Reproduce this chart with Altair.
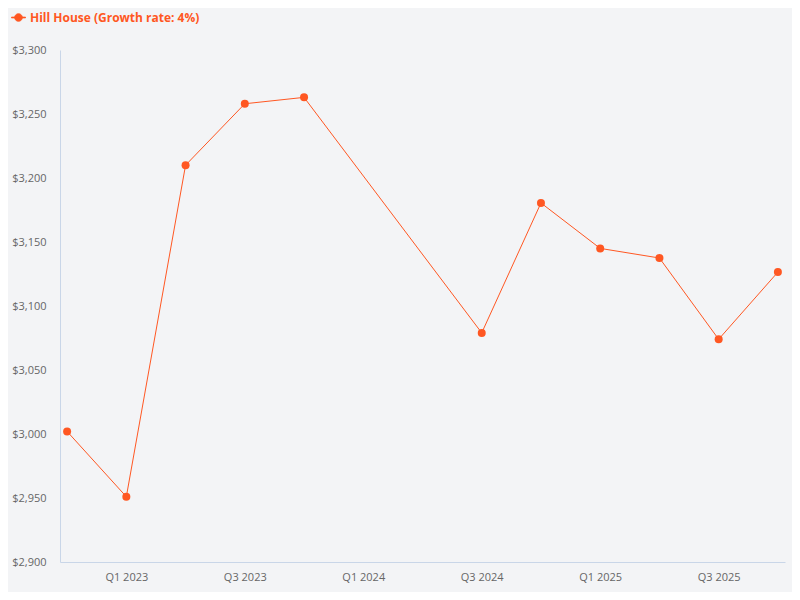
import altair as alt
import pandas as pd

quarters = ["Q4 2022", "Q1 2023", "Q2 2023", "Q3 2023", "Q4 2023", "Q1 2024", "Q2 2024",
            "Q3 2024", "Q4 2024", "Q1 2025", "Q2 2025", "Q3 2025", "Q4 2025"]
data_quarters = ["Q4 2022", "Q1 2023", "Q2 2023", "Q3 2023", "Q4 2023",
                 "Q3 2024", "Q4 2024", "Q1 2025", "Q2 2025", "Q3 2025", "Q4 2025"]
values = [3002, 2951, 3210, 3258, 3263, 3079, 3180.5, 3145, 3137.5, 3074, 3126.5]
label_quarters = ["Q1 2023", "Q3 2023", "Q1 2024", "Q3 2024", "Q1 2025", "Q3 2025"]
series_name = "Hill House (Growth rate: 4%)"
color = "#ff5722"

df = pd.DataFrame({"quarter": data_quarters, "value": values, "series": series_name})

legend_symbol = "M-1,-0.06H1V0.06H-1ZM-0.55,0A0.55,0.55 0 1,1 0.55,0A0.55,0.55 0 1,1 -0.55,0Z"

base = alt.Chart(df).encode(
    x=alt.X("quarter:N", sort=quarters,
            scale=alt.Scale(type="point", domain=quarters, padding=0.12),
            axis=alt.Axis(title=None, values=label_quarters, labelAngle=0, ticks=False,
                          labelPadding=9, domainColor="#c9d6e8", labelColor="#666666",
                          labelFontSize=11, labelFont="Open Sans", grid=False)),
    y=alt.Y("value:Q", scale=alt.Scale(domain=[2900, 3300], nice=False, zero=False),
            axis=alt.Axis(title=None, format="$,.0f", values=list(range(2900, 3301, 50)),
                          ticks=False, labelPadding=14, domainColor="#c9d6e8",
                          labelColor="#666666", labelFontSize=11, labelFont="Open Sans",
                          grid=False)),
    color=alt.Color("series:N", scale=alt.Scale(range=[color]),
                    legend=alt.Legend(title=None, orient="none", legendX=-49, legendY=-40,
                                      symbolType=legend_symbol, symbolSize=196,
                                      symbolStrokeWidth=0.8, symbolFillColor=color,
                                      symbolStrokeColor=color, labelLimit=0,
                                      labelColor=color, labelFontWeight="bold",
                                      labelFontSize=12, labelFont="Open Sans",
                                      labelOffset=4)),
)

line = base.mark_line(strokeWidth=1)
points = base.mark_circle(size=64, opacity=1)

chart = (line + points).properties(
    width=725, height=512,
    background="#f3f4f6",
    padding={"left": 52, "top": 42, "right": 7, "bottom": 30},
    autosize=alt.AutoSizeParams(type="none"),
).configure_view(stroke=None)

chart.save("out.html", embed_options={"renderer": "svg", "actions": False})
